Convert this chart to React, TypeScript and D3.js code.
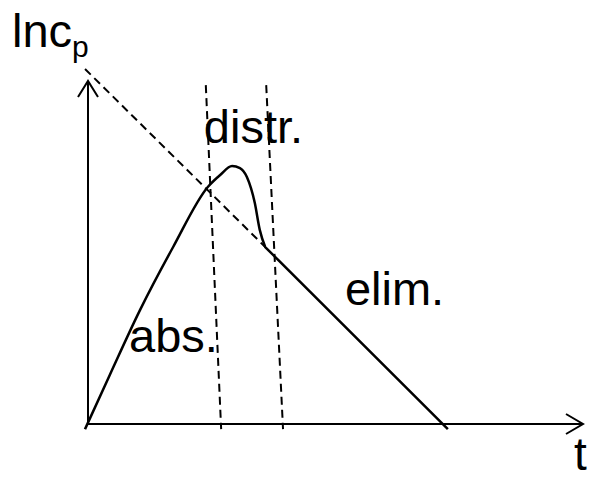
import React from "react";
import * as d3 from "d3";

// Drug concentration curve (log scale), arbitrary units
const curveT = [-0.06, 0.44, 1.05, 1.72, 2.42, 2.67, 2.91, 3.07, 3.21, 3.37, 3.47, 3.58];
const curveC = [-0.15, 1.43, 3.32, 5.16, 6.91, 7.26, 7.52, 7.46, 7.2, 6.44, 5.66, 5.16];
// Elimination phase end
const elimEndT = 7.27;
const elimEndC = -0.15;
// Back-extrapolated elimination line
const extrapT = [-0.06, 3.58];
const extrapC = [10.35, 5.16];
// Phase boundary lines (top, bottom)
const boundaryTopT = [2.38, 3.6];
const boundaryBotT = [2.69, 3.94];
const boundaryC = [9.88, -0.15];

const labels = [
  { text: "distr.", t: 2.34, c: 8.19 },
  { text: "abs.", t: 0.83, c: 2.11 },
  { text: "elim.", t: 5.19, c: 3.47 },
];

const W = 592;
const H = 482;

export default function App() {
  const x = d3.scaleLinear().domain([0, 10]).range([88, 583]);
  const y = d3.scaleLinear().domain([0, 10]).range([424, 81]);

  const pts: [number, number][] = curveT.map((t, i) => [x(t), y(curveC[i])]);
  const smooth = d3.line().curve(d3.curveMonotoneX)(pts) || "";
  const curvePath = smooth + `L${x(elimEndT)},${y(elimEndC)}`;

  const font = "Arimo, 'Liberation Sans', Arial, Helvetica, sans-serif";
  const x0 = x(0);
  const y0 = y(0);
  const xEnd = x(10);
  const yEnd = y(10);

  return (
    <svg
      width={W}
      height={H}
      style={{ position: "absolute", left: 0, top: 0, background: "#fff" }}
      fontFamily={font}
    >
      {/* axes */}
      <line x1={x0} y1={y0} x2={xEnd} y2={y0} stroke="#000" strokeWidth={2} />
      <line x1={x0} y1={y0} x2={x0} y2={yEnd} stroke="#000" strokeWidth={2} />
      <path
        d={`M${xEnd - 17},${y0 - 10}L${xEnd},${y0}L${xEnd - 17},${y0 + 10}`}
        fill="none"
        stroke="#000"
        strokeWidth={2}
      />
      <path
        d={`M${x0 - 10},${yEnd + 16}L${x0},${yEnd}L${x0 + 10},${yEnd + 16}`}
        fill="none"
        stroke="#000"
        strokeWidth={2}
      />

      {/* extrapolated elimination line */}
      <line
        x1={x(extrapT[0])}
        y1={y(extrapC[0])}
        x2={x(extrapT[1])}
        y2={y(extrapC[1])}
        stroke="#000"
        strokeWidth={2}
        strokeDasharray="8,5"
      />
      {/* phase boundaries */}
      {boundaryTopT.map((t, i) => (
        <line
          key={i}
          x1={x(t)}
          y1={y(boundaryC[0])}
          x2={x(boundaryBotT[i])}
          y2={y(boundaryC[1])}
          stroke="#000"
          strokeWidth={2}
          strokeDasharray="8,5"
        />
      ))}

      {/* concentration curve */}
      <path d={curvePath} fill="none" stroke="#000" strokeWidth={2.5} strokeLinejoin="round" />

      {/* labels */}
      {labels.map((l) => (
        <text key={l.text} x={x(l.t)} y={y(l.c)} fontSize={47} fill="#000">
          {l.text}
        </text>
      ))}
      <text x={12} y={47} fontSize={47} fill="#000">
        lnc
        <tspan fontSize={30} dy={10}>p</tspan>
      </text>
      <text x={574} y={470} fontSize={46} fill="#000">
        t
      </text>
    </svg>
  );
}
